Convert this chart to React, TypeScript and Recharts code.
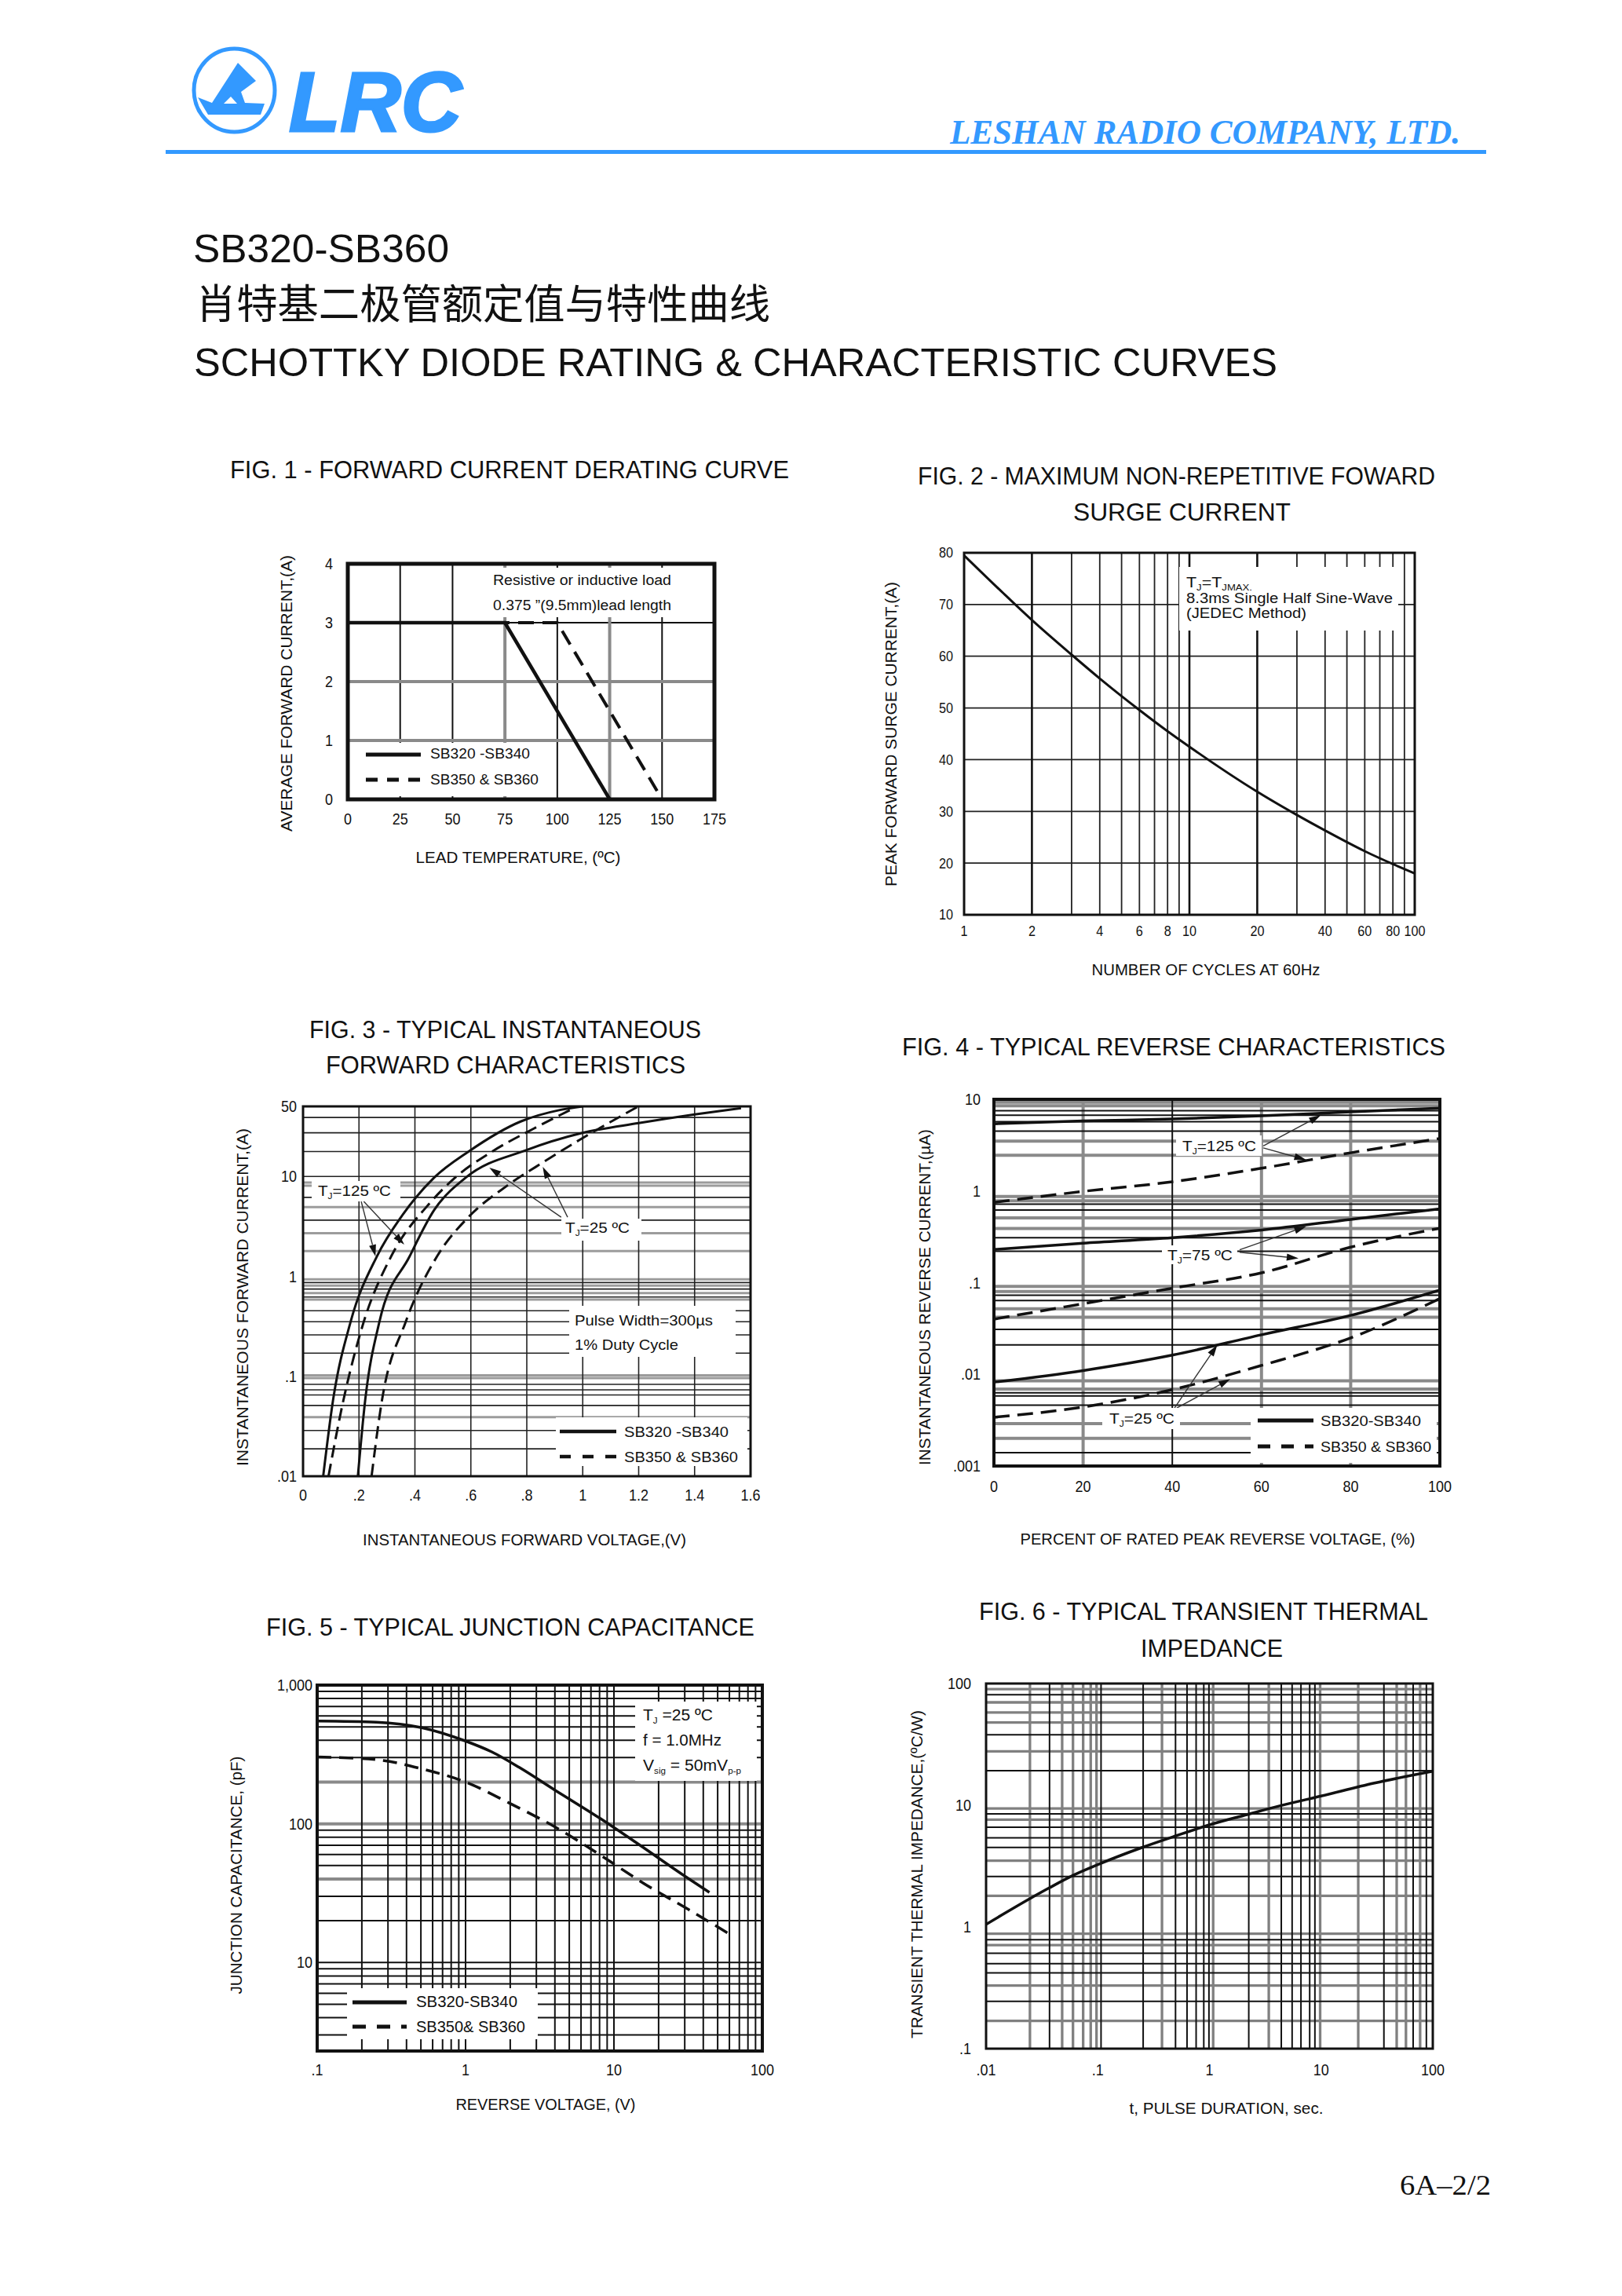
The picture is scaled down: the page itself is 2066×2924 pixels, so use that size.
import React from 'react';
import { LineChart, Line, XAxis, YAxis, CartesianGrid, ReferenceArea, ReferenceLine } from 'recharts';

const SANS = "'Liberation Sans', Arial, Helvetica, sans-serif";
const SERIF = "'Liberation Serif', 'Times New Roman', serif";
const CJK = "'Noto Sans CJK SC', 'Noto Sans CJK JP', sans-serif";
const BLUE = '#3399ff';
const INK = '#111';
const GRAY = '#8a8a8a';

// Fig 1 - forward current derating
const tempTicks = [0, 25, 50, 75, 100, 125, 150, 175];
const ampTicks = [0, 1, 2, 3, 4];
const derateLoTemp = [0, 75, 125];
const derateLoAmp = [3, 3, 0];
const derateHiTemp = [0, 100, 150];
const derateHiAmp = [3, 3, 0];
const tempGridThin = [25, 50, 100, 150];
const tempGridThick = [75, 125];
const ampGridThin = [3];
const ampGridThick = [1, 2];

// Fig 2 - surge current
const cycleTicks = [1, 2, 4, 6, 8, 10, 20, 40, 60, 80, 100];
const surgeTicks = [10, 20, 30, 40, 50, 60, 70, 80];
const cycles = [1, 1.5, 2, 3, 4, 6, 8, 10, 20, 30, 40, 60, 80, 100];
const surgeAmps = [79.5, 72.1, 67, 60.3, 55.7, 49.6, 45.5, 42.5, 33.8, 29.3, 26.3, 22.3, 19.8, 18];
const cycleGridHeavy = [2, 10, 20];
const cycleGridLight = [3, 4, 5, 6, 7, 8, 9, 30, 40, 50, 60, 70, 80, 90];
const surgeGrid = [20, 30, 40, 50, 60, 70];

// Fig 3 - forward characteristics
const vfTicks = [0, 0.2, 0.4, 0.6, 0.8, 1, 1.2, 1.4, 1.6];
const ifTicks = [0.01, 0.1, 1, 10, 50];
const vf125Lo = [0.072, 0.107, 0.17, 0.264, 0.357, 0.469, 0.591, 0.778, 0.918, 1.0];
const if125Lo = [0.01, 0.057, 0.35, 1.58, 4.15, 9.7, 17.6, 35.3, 46, 50];
const vf125Hi = [0.091, 0.144, 0.217, 0.315, 0.451, 0.544, 0.675, 0.825, 0.955];
const if125Hi = [0.01, 0.057, 0.35, 1.58, 5.3, 9.7, 17.6, 30, 46];
const vf25Lo = [0.196, 0.222, 0.273, 0.381, 0.469, 0.582, 0.797, 0.993, 1.2, 1.4, 1.566];
const if25Lo = [0.01, 0.057, 0.35, 1.58, 4.6, 9.7, 18.2, 26.9, 34, 41.5, 48];
const vf25Hi = [0.245, 0.282, 0.367, 0.479, 0.591, 0.731, 0.862, 0.993, 1.199];
const if25Hi = [0.01, 0.057, 0.35, 1.58, 3.9, 8.1, 14, 23.5, 50];
const vfGrid = [0.2, 0.4, 0.6, 0.8, 1, 1.2, 1.4];
const ifGridGray = [8.67, 8.06, 4.92, 2.69, 1.79, 0.93, 0.805, 0.68, 0.585, 0.102, 0.096, 0.039];
const ifGridBlack = [38.7, 27.2, 17.7, 9.96, 6.15, 3.64, 0.865, 0.745, 0.62, 0.452, 0.351, 0.259, 0.17, 0.083, 0.073, 0.065, 0.051, 0.0287, 0.0188];
const fwdArrows = [
  [0.208, 5.6, 0.259, 1.58],
  [0.217, 5.6, 0.362, 2.07],
  [0.923, 3.9, 0.666, 12.2],
  [0.946, 3.9, 0.857, 12.4],
];

// Fig 4 - reverse characteristics
const pctTicks = [0, 20, 40, 60, 80, 100];
const irTicks = [0.001, 0.01, 0.1, 1, 10];
const pct = [0, 20, 40, 60, 80, 100];
const ir125Lo = [5.4, 5.8, 6.1, 6.6, 7.3, 8.0];
const ir125Hi = [0.75, 0.99, 1.26, 1.77, 2.61, 3.74];
const ir75Lo = [0.23, 0.27, 0.31, 0.375, 0.49, 0.64];
const ir75Hi = [0.04, 0.059, 0.087, 0.128, 0.244, 0.393];
const ir25Lo = [0.0082, 0.011, 0.0162, 0.027, 0.044, 0.083];
const ir25Hi = [0.0034, 0.0044, 0.0068, 0.0125, 0.025, 0.067];
const pctGridGray = [20, 60, 80];
const pctGridBlack = [40];
const irGridGray = [9.3, 8.5, 3.5, 2.45, 0.87, 0.78, 0.51, 0.39, 0.091, 0.08, 0.052, 0.042, 0.0085, 0.0069, 0.0029, 0.002];
const irGridBlack = [7.5, 6.7, 5.7, 4.5, 0.72, 0.62, 0.31, 0.22, 0.073, 0.064, 0.031, 0.021, 0.0063, 0.0058, 0.0046, 0.0014];
const revArrows = [
  [60.4, 3.1, 73.3, 6.7],
  [60.4, 2.95, 70, 2.19],
  [55.1, 0.228, 70, 0.41],
  [55.1, 0.215, 68.3, 0.184],
  [40.5, 0.0043, 50.1, 0.021],
  [41, 0.0043, 53, 0.0089],
];

// Fig 5 - junction capacitance
const vrTicks = [0.1, 1, 10, 100];
const cjTicks = [10, 100, 1000];
const vrLo = [0.1, 0.25, 0.5, 1, 1.5, 2.3, 4, 8, 15, 30, 44];
const cjLo = [550, 540, 495, 395, 330, 255, 175, 110, 70, 42, 32];
const vrHi = [0.1, 0.25, 0.5, 1, 2, 4, 8, 16, 32, 64];
const cjHi = [303, 290, 250, 200, 140, 95, 60, 37, 24, 15.4];
const vrGrid = [0.2, 0.3, 0.4, 0.5, 0.6, 0.7, 0.8, 0.9, 1, 2, 3, 4, 5, 6, 7, 8, 9, 10, 20, 30, 40, 50, 60, 70, 80, 90];
const cjGridBlack = [3, 4, 5, 6, 7, 8, 9, 10, 20, 30, 50, 60, 70, 80, 90, 300, 400, 500, 600, 700, 800, 900];
const cjGridGray = [40, 100, 200];

// Fig 6 - transient thermal impedance
const tTicks = [0.01, 0.1, 1, 10, 100];
const zTicks = [0.1, 1, 10, 100];
const pulseT = [0.01, 0.025, 0.037, 0.06, 0.1, 0.25, 0.5, 1, 2.3, 4.3, 10, 30, 100];
const thermZ = [1.05, 1.72, 2.1, 2.65, 3.25, 4.5, 5.6, 6.9, 8.5, 9.9, 11.9, 15.2, 19];
const tGridGray = [0.0247, 0.048, 0.06, 0.074, 0.0865, 0.0975, 0.376, 1.08, 3.4, 9.8, 21.5, 47.5, 57.5, 77];
const tGridBlack = [0.037, 0.107, 0.255, 0.497, 0.63, 0.76, 0.89, 0.99, 2.25, 4.4, 5.5, 6.6, 7.9, 8.8, 36.5, 66.7, 87.6];
const zGridGray = [90, 70, 57.8, 47.8, 27.7, 9.4, 7.6, 3.5, 1.8, 0.88, 0.71, 0.33, 0.169];
const zGridBlack = [81, 38, 19.2, 8.5, 6.6, 5.4, 4.5, 2.6, 0.785, 0.607, 0.5, 0.42, 0.245];

const zip = (xs: number[], ys: number[]) => xs.map((x, i) => ({ x, y: ys[i] }));
const fmt = (v: number) => (v >= 1000 ? v.toLocaleString('en-US') : String(v).replace(/^0\./, '.'));

function Tick(props: any) {
  const { x, y, payload, textAnchor, size, vertical } = props;
  const sx = 0.9;
  return (
    <text x={x} y={y} dy={vertical ? '0.36em' : '0.72em'} textAnchor={textAnchor} fontSize={size}
      fontFamily={SANS} fill={INK} transform={`translate(${x * (1 - sx)},0) scale(${sx},1)`}>
      {fmt(payload.value)}
    </text>
  );
}

const YW = 100, XH = 70, PAD = 24;
type Plot = { l: number; t: number; r: number; b: number };

const xAxisProps = (gap: number, size: number) => ({
  dataKey: 'x', type: 'number' as const, height: XH, axisLine: false, tickLine: false, tickSize: 0,
  tickMargin: gap, interval: 0 as const, allowDataOverflow: true,
  tick: (p: any) => <Tick {...p} size={size} />,
});
const yAxisProps = (gap: number, size: number) => ({
  type: 'number' as const, width: YW, axisLine: false, tickLine: false, tickSize: 0,
  tickMargin: gap, interval: 0 as const, allowDataOverflow: true,
  tick: (p: any) => <Tick {...p} size={size} vertical />,
});
const curve = (w: number, dash?: string, type: 'monotone' | 'linear' = 'monotone') => ({
  dataKey: 'y', type, stroke: INK, strokeWidth: w, strokeDasharray: dash,
  dot: false, activeDot: false, isAnimationActive: false,
});
const border = (w: number) => ({ fill: 'none', fillOpacity: 0, stroke: INK, strokeWidth: w, ifOverflow: 'visible' as const });

const arrowShape = (p: any) => {
  const { x1, y1, x2, y2 } = p;
  if ([x1, y1, x2, y2].some((v) => v == null || isNaN(v))) return <g />;
  const a = Math.atan2(y2 - y1, x2 - x1);
  const L = 15, W = 4.5;
  const bx = x2 - L * Math.cos(a), by = y2 - L * Math.sin(a);
  const nx = -Math.sin(a) * W, ny = Math.cos(a) * W;
  return (
    <g>
      <line x1={x1} y1={y1} x2={bx} y2={by} stroke="#333" strokeWidth={1.4} />
      <polygon points={`${x2},${y2} ${bx + nx},${by + ny} ${bx - nx},${by - ny}`} fill="#111" />
    </g>
  );
};

function Frame({ p, children }: { p: Plot; children: React.ReactNode }) {
  return (
    <div style={{ position: 'absolute', left: p.l - YW, top: p.t - PAD }}>
      <LineChart width={p.r - p.l + YW + PAD} height={p.b - p.t + PAD + XH}
        margin={{ top: PAD, right: PAD, bottom: 0, left: 0 }}>
        {children}
      </LineChart>
    </div>
  );
}

function Txt({ x, y, s, w, a = 'start', r = false, f = SANS, c = INK, children, ...rest }: any) {
  return (
    <text x={x} y={y} fontSize={s} fontFamily={f} fill={c} textAnchor={a}
      textLength={w} lengthAdjust={w ? 'spacingAndGlyphs' : undefined}
      transform={r ? `rotate(-90 ${x} ${y})` : undefined} {...rest}>
      {children}
    </text>
  );
}

const Sub = ({ children }: any) => <tspan fontSize={11} dy={4}>{children}</tspan>;
const Up = ({ children }: any) => <tspan dy={-4}>{children}</tspan>;

const P1 = { l: 443, t: 718, r: 910, b: 1018 };
const P2 = { l: 1228, t: 704, r: 1802, b: 1165 };
const P3 = { l: 386, t: 1409, r: 956, b: 1880 };
const P4 = { l: 1266, t: 1400, r: 1834, b: 1867 };
const P5 = { l: 404, t: 2146, r: 971, b: 2612 };
const P6 = { l: 1256, t: 2144, r: 1825, b: 2609 };

const whiteBoxes = [
  [590, 723, 316, 63], [447, 946, 253, 68],
  [1502, 722, 279, 81],
  [397, 1504, 113, 26], [715, 1552, 102, 28], [725, 1663, 212, 65], [708, 1805, 244, 62],
  [1498, 1446, 109, 26], [1480, 1586, 96, 24], [1404, 1793, 99, 27], [1593, 1793, 237, 70],
  [809, 2167, 155, 101], [442, 2532, 243, 65],
];

export default function App() {
  return (
    <div style={{ position: 'absolute', left: 0, top: 0, width: 2066, height: 2924, background: '#fff', overflow: 'hidden' }}>
      {/* Fig 1 */}
      <Frame p={P1}>
        <XAxis domain={[0, 175]} ticks={tempTicks} {...xAxisProps(18, 20)} />
        <YAxis domain={[0, 4]} ticks={ampTicks} {...yAxisProps(19, 20)} />
        <CartesianGrid verticalValues={tempGridThin} horizontalValues={ampGridThin} stroke={INK} strokeWidth={2} />
        <CartesianGrid verticalValues={tempGridThick} horizontalValues={ampGridThick} stroke={GRAY} strokeWidth={4} />
        <ReferenceArea x1={0} x2={175} y1={0} y2={4} {...border(5)} />
        <Line data={zip(derateHiTemp, derateHiAmp)} {...curve(4, '20 11', 'linear')} />
        <Line data={zip(derateLoTemp, derateLoAmp)} {...curve(4.5, undefined, 'linear')} />
      </Frame>

      {/* Fig 2 */}
      <Frame p={P2}>
        <XAxis scale="log" domain={[1, 100]} ticks={cycleTicks} {...xAxisProps(14, 18)} />
        <YAxis domain={[10, 80]} ticks={surgeTicks} {...yAxisProps(14, 18)} />
        <CartesianGrid verticalValues={cycleGridLight} horizontalValues={surgeGrid} stroke="#222" strokeWidth={1.8} />
        <CartesianGrid verticalValues={cycleGridHeavy} horizontal={false} stroke="#111" strokeWidth={2.6} />
        <ReferenceArea x1={1} x2={100} y1={10} y2={80} {...border(3)} />
        <Line data={zip(cycles, surgeAmps)} {...curve(3)} />
      </Frame>

      {/* Fig 3 */}
      <Frame p={P3}>
        <XAxis domain={[0, 1.6]} ticks={vfTicks} {...xAxisProps(17, 20)} />
        <YAxis scale="log" domain={[0.01, 50]} ticks={ifTicks} {...yAxisProps(8, 20)} />
        <CartesianGrid vertical={false} horizontalValues={ifGridGray} stroke="#9c9c9c" strokeWidth={3} />
        <CartesianGrid verticalValues={vfGrid} horizontalValues={ifGridBlack} stroke="#222" strokeWidth={1.6} />
        <ReferenceArea x1={0} x2={1.6} y1={0.01} y2={50} {...border(3)} />
        <Line data={zip(vf125Lo, if125Lo)} {...curve(3)} />
        <Line data={zip(vf125Hi, if125Hi)} {...curve(3, '16 8')} />
        <Line data={zip(vf25Lo, if25Lo)} {...curve(3)} />
        <Line data={zip(vf25Hi, if25Hi)} {...curve(3, '16 8')} />
        {fwdArrows.map((a, i) => (
          <ReferenceLine key={i} segment={[{ x: a[0], y: a[1] }, { x: a[2], y: a[3] }]} shape={arrowShape} />
        ))}
      </Frame>

      {/* Fig 4 */}
      <Frame p={P4}>
        <XAxis domain={[0, 100]} ticks={pctTicks} {...xAxisProps(19, 20)} />
        <YAxis scale="log" domain={[0.001, 10]} ticks={irTicks} {...yAxisProps(17, 20)} />
        <CartesianGrid verticalValues={pctGridGray} horizontalValues={irGridGray} stroke={GRAY} strokeWidth={4} />
        <CartesianGrid verticalValues={pctGridBlack} horizontalValues={irGridBlack} stroke="#111" strokeWidth={2} />
        <ReferenceArea x1={0} x2={100} y1={0.001} y2={10} {...border(4)} />
        <Line data={zip(pct, ir125Lo)} {...curve(3.5)} />
        <Line data={zip(pct, ir125Hi)} {...curve(3.5, '20 10')} />
        <Line data={zip(pct, ir75Lo)} {...curve(3.5)} />
        <Line data={zip(pct, ir75Hi)} {...curve(3.5, '20 10')} />
        <Line data={zip(pct, ir25Lo)} {...curve(3.5)} />
        <Line data={zip(pct, ir25Hi)} {...curve(3.5, '20 10')} />
        {revArrows.map((a, i) => (
          <ReferenceLine key={i} segment={[{ x: a[0], y: a[1] }, { x: a[2], y: a[3] }]} shape={arrowShape} />
        ))}
      </Frame>

      {/* Fig 5 */}
      <Frame p={P5}>
        <XAxis scale="log" domain={[0.1, 100]} ticks={vrTicks} {...xAxisProps(17, 20)} />
        <YAxis scale="log" domain={[2.3, 1000]} ticks={cjTicks} {...yAxisProps(6, 20)} />
        <CartesianGrid vertical={false} horizontalValues={cjGridGray} stroke={GRAY} strokeWidth={4} />
        <CartesianGrid verticalValues={vrGrid} horizontalValues={cjGridBlack} stroke="#111" strokeWidth={2} />
        <ReferenceArea x1={0.1} x2={100} y1={2.3} y2={1000} {...border(4)} />
        <Line data={zip(vrLo, cjLo)} {...curve(3.5)} />
        <Line data={zip(vrHi, cjHi)} {...curve(3.5, '18 10')} />
      </Frame>

      {/* Fig 6 */}
      <Frame p={P6}>
        <XAxis scale="log" domain={[0.01, 100]} ticks={tTicks} {...xAxisProps(20, 20)} />
        <YAxis scale="log" domain={[0.1, 100]} ticks={zTicks} {...yAxisProps(19, 20)} />
        <CartesianGrid verticalValues={tGridGray} horizontalValues={zGridGray} stroke="#808080" strokeWidth={3.3} />
        <CartesianGrid verticalValues={tGridBlack} horizontalValues={zGridBlack} stroke="#111" strokeWidth={2} />
        <ReferenceArea x1={0.01} x2={100} y1={0.1} y2={100} {...border(3)} />
        <Line data={zip(pulseT, thermZ)} {...curve(3.5)} />
      </Frame>

      <svg width={2066} height={2924} style={{ position: 'absolute', left: 0, top: 0, pointerEvents: 'none' }}>
        {/* header */}
        <ellipse cx={298.5} cy={115} rx={51.5} ry={53} fill="none" stroke={BLUE} strokeWidth={5} />
        <polygon points="303,80 326,103 307,117 312,131 337,132 332,146 265,146 252,124 270,131" fill={BLUE} />
        <polygon points="285,132 294,123 302,132" fill="#fff" />
        <Txt x={368} y={167} s={107} w={220} c={BLUE} fontWeight="bold" fontStyle="italic" stroke={BLUE} strokeWidth={3}>LRC</Txt>
        <Txt x={1210} y={183} s={44} w={650} f={SERIF} c={BLUE} fontStyle="italic" fontWeight="bold">LESHAN RADIO COMPANY, LTD.</Txt>
        <rect x={211} y={191} width={1682} height={5} fill={BLUE} />
        <Txt x={246} y={334} s={50} w={326}>SB320-SB360</Txt>
        <Txt x={249} y={406} s={52} w={732} f={CJK}>肖特基二极管额定值与特性曲线</Txt>
        <Txt x={247} y={479} s={50} w={1380}>SCHOTTKY DIODE RATING &amp; CHARACTERISTIC CURVES</Txt>

        {/* white note boxes */}
        {whiteBoxes.map((b, i) => (
          <rect key={i} x={b[0]} y={b[1]} width={b[2]} height={b[3]} fill="#fff" />
        ))}

        {/* Fig 1 texts */}
        <Txt x={293} y={609} s={31} w={712}>FIG. 1 - FORWARD CURRENT DERATING CURVE</Txt>
        <Txt x={372} y={883} s={21} w={352} a="middle" r>AVERAGE FORWARD CURRENT,(A)</Txt>
        <Txt x={660} y={1099} s={21} w={261} a="middle">LEAD TEMPERATURE, (ºC)</Txt>
        <Txt x={628} y={745} s={18} w={227}>Resistive or inductive load</Txt>
        <Txt x={628} y={777} s={18} w={227}>0.375 ”(9.5mm)lead length</Txt>
        <line x1={466} y1={961} x2={536} y2={961} stroke={INK} strokeWidth={5} />
        <line x1={466} y1={993} x2={536} y2={993} stroke={INK} strokeWidth={5} strokeDasharray="15 12" />
        <Txt x={548} y={966} s={18} w={127}>SB320 -SB340</Txt>
        <Txt x={548} y={999} s={18} w={138}>SB350 &amp; SB360</Txt>

        {/* Fig 2 texts */}
        <Txt x={1169} y={617} s={31} w={659}>FIG. 2 - MAXIMUM NON-REPETITIVE FOWARD</Txt>
        <Txt x={1367} y={663} s={31} w={277}>SURGE CURRENT</Txt>
        <Txt x={1142} y={935} s={21} w={388} a="middle" r>PEAK FORWARD SURGE CURRENT,(A)</Txt>
        <Txt x={1536} y={1242} s={20} w={291} a="middle">NUMBER OF CYCLES AT 60Hz</Txt>
        <Txt x={1511} y={748} s={18} w={84}>T<Sub>J</Sub><Up>=T</Up><Sub>JMAX.</Sub></Txt>
        <Txt x={1511} y={768} s={18} w={263}>8.3ms Single Half Sine-Wave</Txt>
        <Txt x={1511} y={787} s={18} w={153}>(JEDEC Method)</Txt>

        {/* Fig 3 texts */}
        <Txt x={394} y={1322} s={31} w={499}>FIG. 3 - TYPICAL INSTANTANEOUS</Txt>
        <Txt x={415} y={1367} s={31} w={458}>FORWARD CHARACTERISTICS</Txt>
        <Txt x={316} y={1652} s={21} w={430} a="middle" r>INSTANTANEOUS FORWARD CURRENT,(A)</Txt>
        <Txt x={668} y={1968} s={21} w={412} a="middle">INSTANTANEOUS FORWARD VOLTAGE,(V)</Txt>
        <Txt x={405} y={1523} s={19} w={93}>T<Sub>J</Sub><Up>=125 ºC</Up></Txt>
        <Txt x={720} y={1570} s={19} w={82}>T<Sub>J</Sub><Up>=25 ºC</Up></Txt>
        <Txt x={732} y={1688} s={19} w={176}>Pulse Width=300µs</Txt>
        <Txt x={732} y={1719} s={19} w={132}>1% Duty Cycle</Txt>
        <line x1={713} y1={1823} x2={785} y2={1823} stroke={INK} strokeWidth={4.5} />
        <line x1={713} y1={1855} x2={785} y2={1855} stroke={INK} strokeWidth={4.5} strokeDasharray="14 15" />
        <Txt x={795} y={1830} s={19} w={133}>SB320 -SB340</Txt>
        <Txt x={795} y={1862} s={19} w={145}>SB350 &amp; SB360</Txt>

        {/* Fig 4 texts */}
        <Txt x={1149} y={1344} s={31} w={692}>FIG. 4 - TYPICAL REVERSE CHARACTERISTICS</Txt>
        <Txt x={1185} y={1652} s={21} w={428} a="middle" r>INSTANTANEOUS REVERSE CURRENT,(µA)</Txt>
        <Txt x={1551} y={1967} s={21} w={503} a="middle">PERCENT OF RATED PEAK REVERSE VOLTAGE, (%)</Txt>
        <Txt x={1506} y={1466} s={19} w={94}>T<Sub>J</Sub><Up>=125 ºC</Up></Txt>
        <Txt x={1487} y={1605} s={19} w={83}>T<Sub>J</Sub><Up>=75 ºC</Up></Txt>
        <Txt x={1413} y={1813} s={19} w={83}>T<Sub>J</Sub><Up>=25 ºC</Up></Txt>
        <line x1={1602} y1={1809} x2={1673} y2={1809} stroke={INK} strokeWidth={5} />
        <line x1={1602} y1={1842} x2={1673} y2={1842} stroke={INK} strokeWidth={5} strokeDasharray="16 14" />
        <Txt x={1682} y={1816} s={19} w={128}>SB320-SB340</Txt>
        <Txt x={1682} y={1849} s={19} w={141}>SB350 &amp; SB360</Txt>

        {/* Fig 5 texts */}
        <Txt x={339} y={2083} s={31} w={622}>FIG. 5 - TYPICAL JUNCTION CAPACITANCE</Txt>
        <Txt x={308} y={2388} s={21} w={303} a="middle" r>JUNCTION CAPACITANCE, (pF)</Txt>
        <Txt x={695} y={2687} s={21} w={229} a="middle">REVERSE VOLTAGE, (V)</Txt>
        <Txt x={819} y={2191} s={20} w={89}>T<Sub>J</Sub><Up> =25 ºC</Up></Txt>
        <Txt x={819} y={2223} s={20} w={100}>f = 1.0MHz</Txt>
        <Txt x={819} y={2255} s={20} w={125}>V<Sub>sig</Sub><Up> = 50mV</Up><Sub>p-p</Sub></Txt>
        <line x1={449} y1={2550} x2={518} y2={2550} stroke={INK} strokeWidth={5} />
        <line x1={449} y1={2581} x2={518} y2={2581} stroke={INK} strokeWidth={5} strokeDasharray="17 14" />
        <Txt x={530} y={2556} s={20} w={129}>SB320-SB340</Txt>
        <Txt x={530} y={2588} s={20} w={139}>SB350&amp; SB360</Txt>

        {/* Fig 6 texts */}
        <Txt x={1247} y={2063} s={31} w={572}>FIG. 6 - TYPICAL TRANSIENT THERMAL</Txt>
        <Txt x={1453} y={2110} s={31} w={181}>IMPEDANCE</Txt>
        <Txt x={1175} y={2387} s={21} w={418} a="middle" r>TRANSIENT THERMAL IMPEDANCE,(ºC/W)</Txt>
        <Txt x={1562} y={2692} s={21} w={247} a="middle">t, PULSE  DURATION, sec.</Txt>

        <Txt x={1783} y={2795} s={35} w={116} f={SERIF}>6A–2/2</Txt>
      </svg>
    </div>
  );
}
